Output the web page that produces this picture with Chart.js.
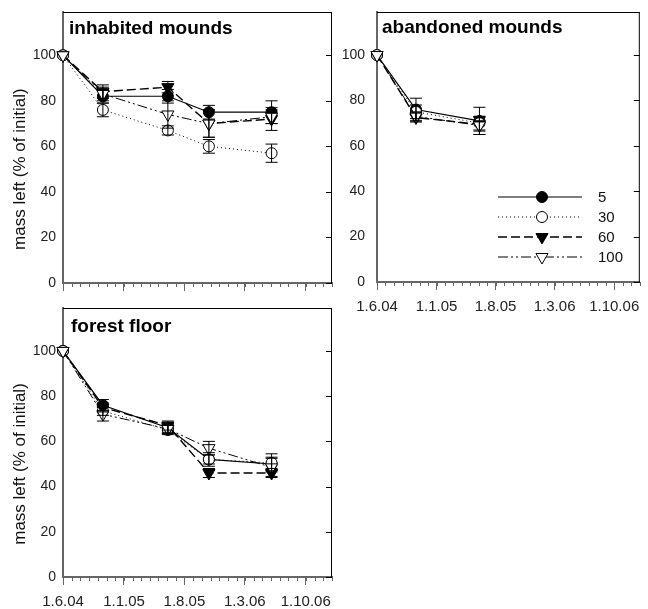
<!DOCTYPE html>
<html>
<head>
<meta charset="utf-8">
<script src="https://cdn.jsdelivr.net/npm/chart.js@4.4.1/dist/chart.umd.min.js"></script>
<style>
  html, body { margin: 0; padding: 0; background: #fff; }
  body { width: 648px; height: 609px; position: relative; overflow: hidden; }
  canvas { position: absolute; }
</style>
</head>
<body>
<canvas id="inhabited" width="340" height="300" style="left:0;top:0"></canvas>
<canvas id="abandoned" width="308" height="320" style="left:340px;top:0"></canvas>
<canvas id="forest" width="340" height="309" style="left:0;top:300px"></canvas>
<script>
// data
const sampleDates = ["2004-06-01", "2004-10-19", "2005-06-04", "2005-10-26", "2006-06-03"];
const tickDates = ["2004-06-01", "2005-01-01", "2005-08-01", "2006-03-01", "2006-10-01"];
const tickLabels = ["1.6.04", "1.1.05", "1.8.05", "1.3.06", "1.10.06"];
const yTicks = [0, 20, 40, 60, 80, 100];
const seriesNames = ["5", "30", "60", "100"];

// inhabited mounds
const inhabited5 = [100, 82, 82, 75, 75];
const inhabited30 = [100, 76, 67, 60, 57];
const inhabited60 = [100, 84, 86, 70, 72];
const inhabited100 = [100, 83, 74, 70, 73];
const inhabitedErr5 = [0, 3, 3, 3, 5];
const inhabitedErr30 = [0, 3, 2, 3, 4];
const inhabitedErr60 = [0, 3, 2.5, 6, 5];
const inhabitedErr100 = [0, 3, 6, 6, 3];

// abandoned mounds
const abandoned5 = [100, 76, 71];
const abandoned30 = [100, 75, 70];
const abandoned60 = [100, 72.5, 69.5];
const abandoned100 = [100, 73, 69];
const abandonedErr5 = [0, 5, 6];
const abandonedErr30 = [0, 3, 3];
const abandonedErr60 = [0, 2, 3];
const abandonedErr100 = [0, 2, 4];

// forest floor
const forest5 = [100, 76, 66, 52, 50];
const forest30 = [100, 73.5, 65, 52, 50.5];
const forest60 = [100, 75, 67, 46, 46];
const forest100 = [100, 72, 65.5, 57, 48.5];
const forestErr5 = [0, 2.5, 2, 2, 3];
const forestErr30 = [0, 2, 2, 3, 4];
const forestErr60 = [0, 2, 2, 2, 2];
const forestErr100 = [0, 3, 2, 3, 4];

const FONT = "'Liberation Sans', Arial, Helvetica, sans-serif";
const START = Date.parse("2004-06-01");
const dayOf = s => Math.round((Date.parse(s) - START) / 86400000);
const X_MAX = dayOf("2007-01-01");

// series look: 5 solid/filled circle, 30 dotted/open circle, 60 dashed/filled triangle, 100 dash-dot-dot/open triangle
const looks = [
    { dash: [], width: 1.2, style: "circle", rot: 0, radius: 5.5, fill: "#000" },
    { dash: [1, 3], width: 1, style: "circle", rot: 0, radius: 5.5, fill: "#fff" },
    { dash: [9, 4], width: 1.4, style: "triangle", rot: 180, radius: 7, fill: "#000" },
    { dash: [10, 3, 2, 3, 2, 3], width: 1, style: "triangle", rot: 180, radius: 7, fill: "#fff" }
];

// monthly minor ticks on the date axis
const minorDays = [];
for (let y = 2004, m = 5; ; m++) {
    if (m > 11) { m = 0; y++; }
    const d = Math.round((Date.UTC(y, m, 1) - START) / 86400000);
    if (d > X_MAX) break;
    minorDays.push(d);
}

function drawMarker(ctx, look, x, y) {
    ctx.save();
    ctx.setLineDash([]);
    ctx.lineWidth = 1;
    ctx.strokeStyle = "#000";
    ctx.fillStyle = look.fill;
    ctx.beginPath();
    if (look.style === "circle") {
        ctx.arc(x, y, look.radius, 0, Math.PI * 2);
    } else {
        const r = look.radius;
        ctx.moveTo(x - r * 0.866, y - r * 0.5);
        ctx.lineTo(x + r * 0.866, y - r * 0.5);
        ctx.lineTo(x, y + r);
        ctx.closePath();
    }
    ctx.fill();
    ctx.stroke();
    ctx.restore();
}

function buildPanel(id, cfg) {
    const datasets = seriesNames.map((name, i) => ({
        label: name,
        data: cfg.values[i].map((v, j) => ({ x: dayOf(sampleDates[j]), y: v })),
        order: seriesNames.length - i,   // later series drawn on top
        borderColor: "#000",
        borderWidth: looks[i].width,
        borderDash: looks[i].dash,
        pointStyle: looks[i].style,
        pointRotation: looks[i].rot,
        pointRadius: looks[i].radius,
        pointBackgroundColor: looks[i].fill,
        pointBorderColor: "#000",
        pointBorderWidth: 1,
        tension: 0,
        clip: false
    }));

    const decor = {
        id: "decor",
        afterDatasetsDraw(chart) {
            const { ctx, chartArea: a, scales: { x, y } } = chart;
            ctx.save();
            // error bars
            ctx.strokeStyle = "#000";
            ctx.lineWidth = 1;
            datasets.forEach((ds, i) => {
                ds.data.forEach((p, j) => {
                    const e = cfg.errors[i][j];
                    if (!e) return;
                    const px = x.getPixelForValue(p.x);
                    const t = y.getPixelForValue(p.y + e);
                    const b = y.getPixelForValue(p.y - e);
                    ctx.beginPath();
                    ctx.moveTo(px, t); ctx.lineTo(px, b);
                    ctx.moveTo(px - 6, t); ctx.lineTo(px + 6, t);
                    ctx.moveTo(px - 6, b); ctx.lineTo(px + 6, b);
                    ctx.stroke();
                });
            });
            // top and right frame, inward ticks on the right
            ctx.beginPath();
            ctx.moveTo(a.left, a.top + 0.5); ctx.lineTo(a.right, a.top + 0.5);
            ctx.moveTo(a.right - 0.5, a.top); ctx.lineTo(a.right - 0.5, a.bottom);
            yTicks.forEach(v => {
                const py = Math.round(y.getPixelForValue(v)) + 0.5;
                ctx.moveTo(a.right - 6, py); ctx.lineTo(a.right, py);
            });
            ctx.stroke();
            // minor month ticks
            ctx.strokeStyle = "#666";
            ctx.beginPath();
            minorDays.forEach(d => {
                const px = Math.round(x.getPixelForValue(d)) + 0.5;
                ctx.moveTo(px, a.bottom); ctx.lineTo(px, a.bottom + 4);
            });
            ctx.stroke();
            // panel title
            ctx.fillStyle = "#000";
            ctx.font = "bold 19px " + FONT;
            ctx.textBaseline = "middle";
            ctx.textAlign = "left";
            ctx.fillText(cfg.title, a.left + cfg.titleDx, a.top + cfg.titleDy);
            // y axis title, centred on the 0-100 range
            if (cfg.yTitle) {
                ctx.save();
                ctx.translate(20, y.getPixelForValue(50));
                ctx.rotate(-Math.PI / 2);
                ctx.textAlign = "center";
                ctx.fillStyle = "#111";
                ctx.font = "17px " + FONT;
                ctx.fillText("mass left (% of initial)", 0, 0);
                ctx.restore();
            }
            // legend
            if (cfg.legend) {
                ctx.font = "15px " + FONT;
                ctx.fillStyle = "#111";
                seriesNames.forEach((name, i) => {
                    const ly = a.top + 185 + i * 20;
                    const lx = a.left + 121;
                    ctx.save();
                    ctx.strokeStyle = "#000";
                    ctx.lineWidth = looks[i].width;
                    ctx.setLineDash(looks[i].dash);
                    ctx.beginPath();
                    ctx.moveTo(lx, ly); ctx.lineTo(lx + 84, ly);
                    ctx.stroke();
                    ctx.restore();
                    drawMarker(ctx, looks[i], lx + 44, ly);
                    ctx.fillText(name, lx + 100, ly + 1);
                });
            }
            ctx.restore();
        }
    };

    new Chart(document.getElementById(id), {
        type: "line",
        data: { datasets },
        options: {
            responsive: false,
            animation: false,
            events: [],
            layout: { padding: { top: cfg.top, right: cfg.right, left: 0, bottom: 0 } },
            plugins: { legend: { display: false }, tooltip: { enabled: false } },
            scales: {
                x: {
                    type: "linear",
                    min: 0,
                    max: X_MAX,
                    afterBuildTicks: s => { s.ticks = tickDates.map(d => ({ value: dayOf(d) })); },
                    afterFit: s => { s.height = cfg.xHeight; },
                    ticks: {
                        autoSkip: false,
                        maxRotation: 0,
                        padding: 8,
                        color: "#222",
                        font: { family: FONT, size: 15 },
                        callback: v => cfg.xLabels ? tickLabels[tickDates.findIndex(d => dayOf(d) === v)] : ""
                    },
                    grid: { drawOnChartArea: false, drawTicks: true, tickLength: 8, tickColor: "#666", tickWidth: 1 },
                    border: { color: "#666", width: 2 }
                },
                y: {
                    min: 0,
                    max: 119,
                    afterBuildTicks: s => { s.ticks = yTicks.map(v => ({ value: v })); },
                    afterFit: s => { s.width = cfg.yWidth; s.paddingTop = 0; s.paddingBottom = 0; },
                    ticks: { padding: cfg.yPad, color: "#222", font: { family: FONT, size: 14 } },
                    grid: { drawOnChartArea: false, drawTicks: false },
                    border: { color: "#666", width: 2 }
                }
            }
        },
        plugins: [decor]
    });
}

buildPanel("inhabited", {
    title: "inhabited mounds",
    values: [inhabited5, inhabited30, inhabited60, inhabited100],
    errors: [inhabitedErr5, inhabitedErr30, inhabitedErr60, inhabitedErr100],
    top: 12, right: 8, xHeight: 17, yWidth: 63, yPad: 7,
    xLabels: false, yTitle: true, titleDx: 6, titleDy: 17, legend: false
});

buildPanel("abandoned", {
    title: "abandoned mounds",
    values: [abandoned5, abandoned30, abandoned60, abandoned100],
    errors: [abandonedErr5, abandonedErr30, abandonedErr60, abandonedErr100],
    top: 12, right: 2, xHeight: 38, yWidth: 37, yPad: 12,
    xLabels: true, yTitle: false, titleDx: 5, titleDy: 16, legend: true
});

buildPanel("forest", {
    title: "forest floor",
    values: [forest5, forest30, forest60, forest100],
    errors: [forestErr5, forestErr30, forestErr60, forestErr100],
    top: 8, right: 8, xHeight: 32, yWidth: 63, yPad: 7,
    xLabels: true, yTitle: true, titleDx: 8, titleDy: 19, legend: false
});
</script>
</body>
</html>
